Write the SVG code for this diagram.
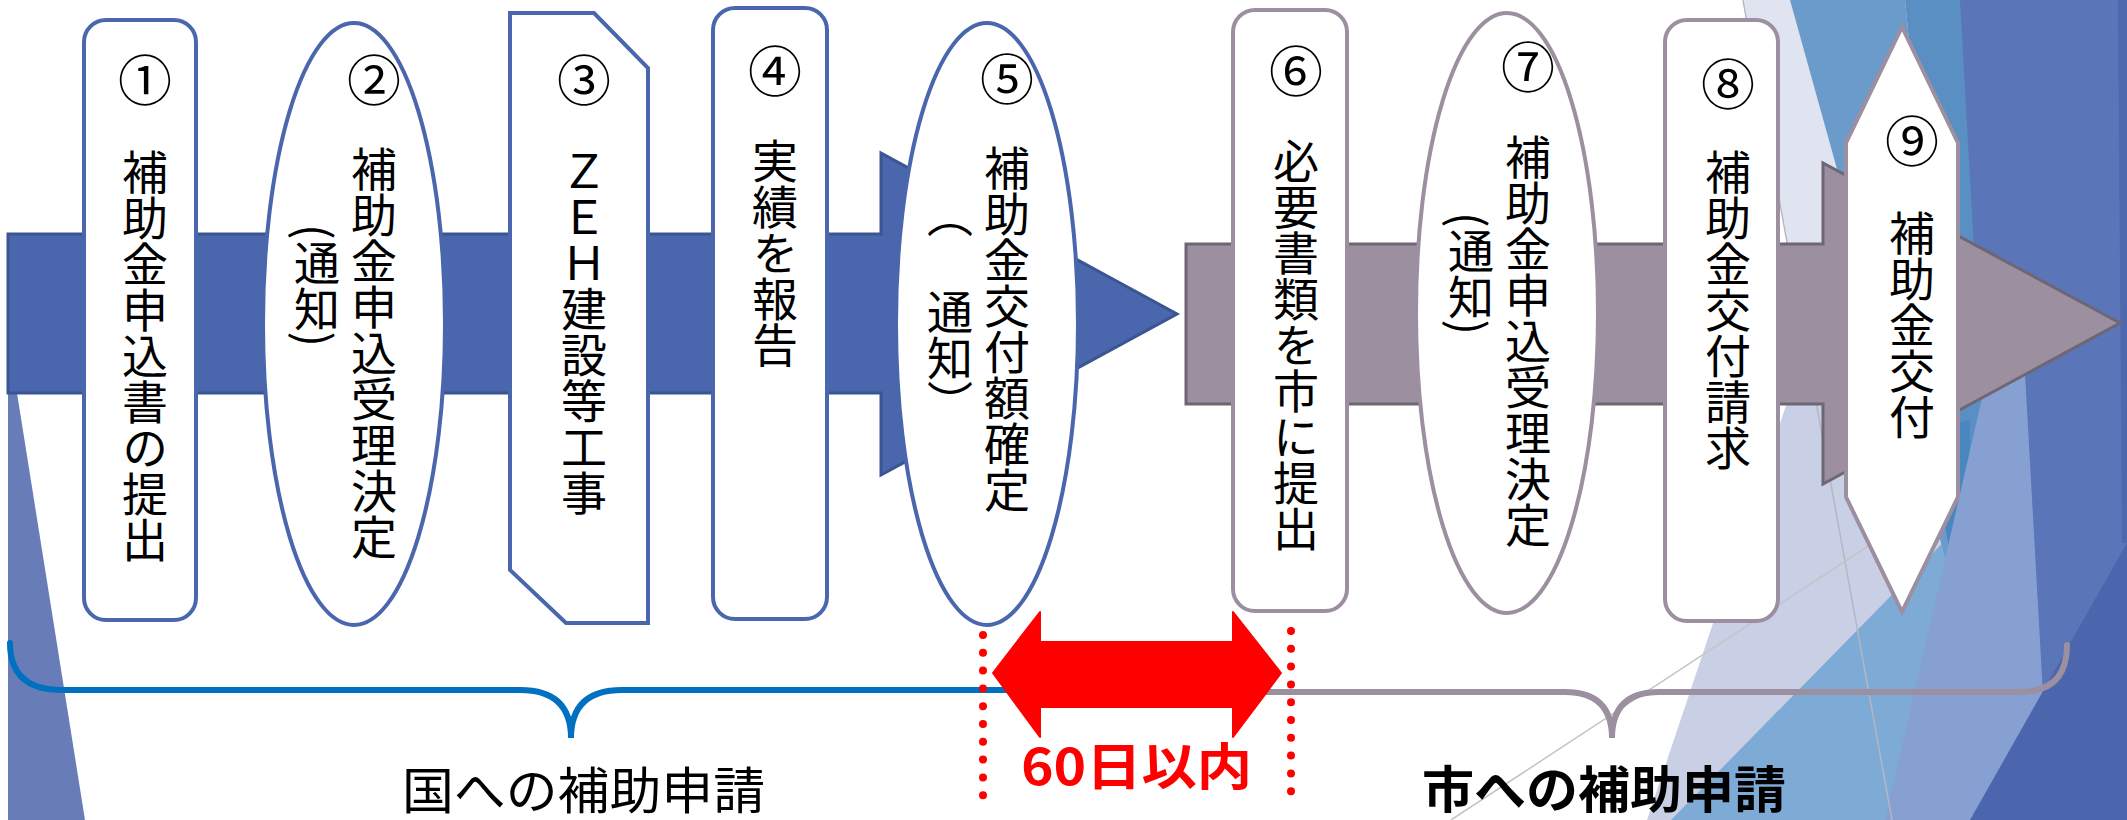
<svg xmlns="http://www.w3.org/2000/svg" width="2127" height="820" viewBox="0 0 2127 820">
<style>
.v{font-family:"Noto Sans CJK JP","Noto Sans CJK SC",sans-serif;font-size:46px;writing-mode:vertical-rl;text-orientation:mixed;fill:#000}
.num{font-family:"Noto Sans CJK JP","Noto Sans CJK SC",sans-serif;font-size:54px;text-anchor:middle;dominant-baseline:central;fill:#000}
.bn{fill:#fff;stroke:#4a66ad;stroke-width:4}
.gn{fill:#fff;stroke:#9b8fa0;stroke-width:4}
.lbl{font-family:"Noto Sans CJK JP","Noto Sans CJK SC",sans-serif;font-size:50px}
</style>
<rect width="2127" height="820" fill="#fff"/>
<g id="background">
<polygon points="1744,0 2127,0 2127,820 1892,820" fill="#dfe4f0"/>
<polygon points="1922,0 2127,0 2127,820 1647,820" fill="#c9d0e5"/>
<polygon points="1671,820 2127,355 2127,820" fill="#7eaad6"/>
<polygon points="1790,0 1905,0 1968,640" fill="#6a9bcb"/>
<polygon points="1905,0 1962,0 1985,420 1968,640" fill="#5a8fc3"/>
<polygon points="1925,430 1970,420 1968,640" fill="#4a86c0"/>
<polygon points="1960,0 2127,0 2127,820 2005,820 1983,410" fill="#5a75b8"/>
<polygon points="2000,320 2022,320 2050,820 1885,820" fill="#86a1d1"/>
<polygon points="2127,543 2127,820 1970,820" fill="#4b66ac"/>
<polygon points="2118,0 2127,0 2127,543 2122,543" fill="#4e68ae"/>
<line x1="1743" y1="0" x2="1892" y2="820" stroke="#b4b6c2" stroke-width="1.5"/>
<line x1="1451" y1="820" x2="1905" y2="522" stroke="#c4c4c8" stroke-width="1.5"/>
<polygon points="8,393 17,393 85,820 8,820" fill="#687db8"/>
</g>
<g id="connectors">
<path d="M8,234 L881,234 L881,153 L1177,314 L881,475 L881,393 L8,393 Z" fill="#4a66ad" stroke="#3b5492" stroke-width="3"/>
<path d="M1186,244 L1823,244 L1823,163 L2120,323 L1823,484 L1823,404 L1186,404 Z" fill="#9b8fa0" stroke="#6f6674" stroke-width="3"/>
<path d="M10,643 Q10,690 62,690 L520,690 Q571,690 571,738 Q571,690 622,690 L1080,690 Q1132,690 1132,665" fill="none" stroke="#0070c0" stroke-width="6" stroke-linecap="round"/>
<path d="M1157,665 Q1157,692 1205,692 L1565,692 Q1612,692 1612,738 Q1612,692 1659,692 L2020,692 Q2067,692 2067,645" fill="none" stroke="#9b8fa0" stroke-width="6" stroke-linecap="round"/>
<polygon points="993,673 1040,612 1040,642 1233,642 1233,612 1281,673 1233,737 1233,707 1040,707 1040,737" fill="#ff0000" stroke="#ff0000" stroke-width="2" stroke-linejoin="round"/>
<line x1="983" y1="635" x2="983" y2="796" stroke="#ff0000" stroke-width="8" stroke-linecap="round" stroke-dasharray="0 17.8"/>
<line x1="1291" y1="631" x2="1291" y2="792" stroke="#ff0000" stroke-width="8" stroke-linecap="round" stroke-dasharray="0 17.8"/>
</g>
<g id="node1">
<rect x="84" y="20" width="112" height="600" rx="22" class="bn"/>
<text class="num" x="145" y="77">①</text>
<text class="v" x="145" y="149">補助金申込書の提出</text>
</g>
<g id="node2">
<ellipse cx="354" cy="324" rx="91" ry="301" class="bn"/>
<text class="num" x="374" y="77">②</text>
<text class="v" x="374" y="146">補助金申込受理決定</text>
<text class="v" x="317" y="224">(通知)</text>
</g>
<g id="node3">
<polygon points="510,13 594,13 648,68 648,623 566,623 510,570" class="bn"/>
<text class="num" x="584" y="77">③</text>
<text class="v" x="584" y="148">ＺＥＨ建設等工事</text>
</g>
<g id="node4">
<rect x="713" y="8" width="114" height="611" rx="22" class="bn"/>
<text class="num" x="775" y="68">④</text>
<text class="v" x="775" y="138">実績を報告</text>
</g>
<g id="node5">
<ellipse cx="987" cy="324" rx="91" ry="301" class="bn"/>
<text class="num" x="1007" y="76">⑤</text>
<text class="v" x="1007" y="145">補助金交付額確定</text>
<text class="v" x="950" y="192">（</text>
<text class="v" x="950" y="289">通知</text>
<text class="v" x="950" y="380">）</text>
</g>
<g id="node6">
<rect x="1233" y="10" width="114" height="601" rx="22" class="gn"/>
<text class="num" x="1296" y="68">⑥</text>
<text class="v" x="1296" y="138">必要書類を市に提出</text>
</g>
<g id="node7">
<ellipse cx="1507" cy="313" rx="91" ry="300" class="gn"/>
<text class="num" x="1528" y="64">⑦</text>
<text class="v" x="1528" y="134">補助金申込受理決定</text>
<text class="v" x="1471" y="212">(通知)</text>
</g>
<g id="node8">
<rect x="1665" y="20" width="113" height="601" rx="22" class="gn"/>
<text class="num" x="1728" y="81">⑧</text>
<text class="v" x="1728" y="149">補助金交付請求</text>
</g>
<g id="node9">
<polygon points="1902,27 1958,143 1958,497 1902,612 1846,497 1846,143" class="gn"/>
<text class="num" x="1912" y="138">⑨</text>
<text class="v" x="1912" y="210">補助金交付</text>
</g>
<g id="labels">
<text class="lbl" x="402" y="809" fill="#000" textLength="363" lengthAdjust="spacingAndGlyphs">国への補助申請</text>
<text class="lbl" x="1422" y="808" fill="#000" font-weight="bold" textLength="364" lengthAdjust="spacingAndGlyphs">市への補助申請</text>
<text class="lbl" x="1021" y="785" fill="#ff0000" font-weight="bold" font-size="52" textLength="231" lengthAdjust="spacingAndGlyphs">60日以内</text>
</g>
</svg>
